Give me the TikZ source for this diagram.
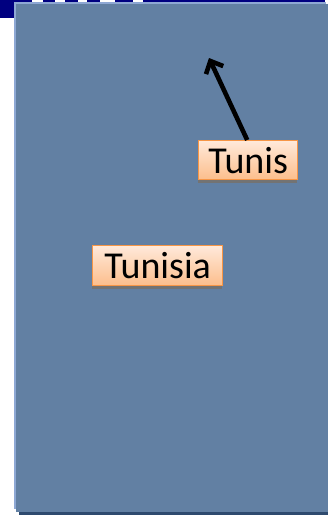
\documentclass[tikz,border=0pt]{standalone}
\usepackage{fontspec}
\setmainfont{Carlito}
\usetikzlibrary{arrows.meta}
\definecolor{panel}{HTML}{6280A3}
\definecolor{paneledge}{HTML}{8EA8D4}
\definecolor{panelshadow}{HTML}{2E4A6E}
\definecolor{navy}{HTML}{000080}
\definecolor{boxborder}{HTML}{F79646}
\definecolor{boxtop}{HTML}{FFE9DA}
\definecolor{boxbottom}{HTML}{FCBE8C}
\tikzset{
  label box/.style={draw=boxborder, line width=1.4pt, top color=boxtop, bottom color=boxbottom,
    font=\fontsize{38}{38}\selectfont, text=black, inner sep=0pt, anchor=north west},
  box shadow/.style={fill=black!55, draw=none},
  pointer/.style={line width=4.6pt, black, -{Straight Barb[length=10pt,width=19pt,line width=4.6pt]}}
}
\begin{document}
\begin{tikzpicture}[x=1pt,y=-1pt]
\useasboundingbox (0,0) rectangle (328,515);
\fill[white] (0,0) rectangle (328,515);
% top decorations
\fill[navy] (0,0) rectangle (14,18);
\fill[navy] (14,0) rectangle (325,1.5);
\foreach \a/\b in {32/43,55/65,78/87,100/115,133/143}{\fill[white] (\a,0) rectangle (\b,1.5);}
% panel
\fill[panelshadow] (19,508) rectangle (328,515);
\fill[paneledge] (14,1.5) rectangle (326,509);
\fill[panel] (16,4) rectangle (328,512);
% shadows of boxes
\fill[box shadow] (198,179) rectangle (297,182.5);
\fill[box shadow] (92,285) rectangle (222,288.5);
% boxes
\node[label box, minimum width=99pt, minimum height=39pt] (tunis) at (198,140) {Tunis};
\node[label box, minimum width=130pt, minimum height=40pt] (tunisia) at (92,245) {Tunisia};
\coordinate (tip) at (209,58);
\draw[pointer] ([xshift=-1pt]tunis.north) -- (tip);
\end{tikzpicture}
\end{document}
